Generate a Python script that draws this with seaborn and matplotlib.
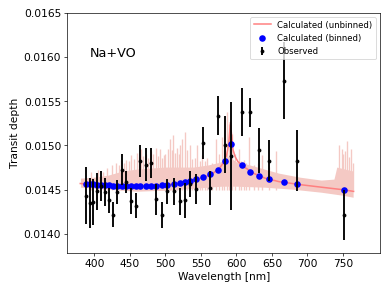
"""
Transmission spectrum: calculated Na+VO model vs observed transit depths.
"""

import matplotlib
matplotlib.use("Agg")
import matplotlib.pyplot as plt
import seaborn as sns

# observed bins (wavelength in nm, transit depth and 1-sigma error)
obs_wl = [388.3, 393.0, 398.6, 403.8, 409.4, 415.1, 420.7, 426.3, 432.4, 438.3,
          444.7, 451.3, 458.1, 464.7, 472.1, 479.5, 486.9, 494.7, 502.7, 511.6,
          519.8, 526.8, 533.9, 543.3, 552.7, 563.0, 573.3, 584.2, 592.6, 607.1,
          619.4, 632.1, 645.7, 666.3, 685.2, 751.4]
obs_depth = [0.014432, 0.014349, 0.014364, 0.014481, 0.014545, 0.014474, 0.014378,
             0.014216, 0.014477, 0.014727, 0.014588, 0.014372, 0.014318, 0.014822,
             0.014784, 0.014807, 0.014394, 0.014216, 0.014481, 0.014481, 0.014367,
             0.014378, 0.014565, 0.014506, 0.015026, 0.014523, 0.015338, 0.015011,
             0.014881, 0.015378, 0.015375, 0.014947, 0.014830, 0.015733, 0.014830,
             0.014216]
obs_err = [0.000325, 0.000283, 0.000261, 0.000208, 0.000170, 0.000156, 0.000136,
           0.000140, 0.000136, 0.000176, 0.000129, 0.000142, 0.000142, 0.000182,
           0.000182, 0.000170, 0.000176, 0.000148, 0.000142, 0.000153, 0.000148,
           0.000193, 0.000145, 0.000170, 0.000182, 0.000193, 0.000222, 0.000324,
           0.000608, 0.000273, 0.000165, 0.000256, 0.000227, 0.000432, 0.000341,
           0.000284]

# model binned to the observed wavelengths
binned_depth = [0.014568, 0.014565, 0.014561, 0.014558, 0.014555, 0.014551, 0.014548,
                0.014545, 0.014543, 0.014541, 0.014540, 0.014539, 0.014539, 0.014540,
                0.014541, 0.014543, 0.014545, 0.014550, 0.014557, 0.014564, 0.014574,
                0.014584, 0.014597, 0.014619, 0.014640, 0.014674, 0.014727, 0.014830,
                0.015020, 0.014776, 0.014701, 0.014656, 0.014622, 0.014583, 0.014560,
                0.014500]

# smoothed unbinned model
model_wl = [380, 400, 420, 450, 480, 500, 520, 540, 555, 565, 575, 582, 586, 589,
            591.5, 593, 595, 598, 602, 610, 625, 640, 660, 690, 720, 750, 765]
model_depth = [0.014570, 0.014559, 0.014548, 0.014539, 0.014542, 0.014553, 0.014574,
               0.014614, 0.014642, 0.014676, 0.014733, 0.014807, 0.014886, 0.015011,
               0.015261, 0.015125, 0.014955, 0.014875, 0.014818, 0.014761, 0.014682,
               0.014631, 0.014591, 0.014557, 0.014528, 0.014500, 0.014481]

# high resolution spectrum: continuum band edges
band_top_wl = [381, 400, 420, 440, 460, 480, 500, 520, 540, 560, 575, 585, 590, 595,
               600, 620, 640, 660, 690, 720, 738, 742, 765]
band_top = [0.014625, 0.014636, 0.014659, 0.014705, 0.014727, 0.014739, 0.014750,
            0.014750, 0.014750, 0.014773, 0.014800, 0.014830, 0.014880, 0.014840,
            0.014810, 0.014773, 0.014727, 0.014682, 0.014636, 0.014603, 0.014614,
            0.014750, 0.014705]
band_low_wl = [381, 420, 460, 500, 540, 580, 600, 640, 680, 720, 750, 765]
band_low = [0.014523, 0.014500, 0.014477, 0.014489, 0.014511, 0.014534, 0.014534,
            0.014523, 0.014500, 0.014466, 0.014432, 0.014409]

# high resolution spectrum: line peaks above the band
spike_wl = [395, 405, 412, 418, 425, 430, 434, 438, 442, 445, 449, 452, 456, 460,
            463, 466, 469, 472, 476, 480, 483, 486, 489, 492, 495, 498, 500, 503,
            507, 509, 511, 514, 516, 519, 521, 523, 527, 530, 534, 537, 541, 544,
            548, 551, 555, 558, 565, 571, 575, 579, 582, 586, 590, 593, 598, 603,
            606, 610, 613, 617, 625, 630, 636, 646, 655, 744, 748, 750, 753, 755.6,
            758, 761, 764]
spike_top = [0.014705, 0.014727, 0.014705, 0.014750, 0.014784, 0.014807, 0.014780,
             0.014841, 0.014800, 0.014841, 0.014820, 0.014898, 0.014850, 0.014920,
             0.014870, 0.014955, 0.014880, 0.014909, 0.014860, 0.014932, 0.014900,
             0.014977, 0.014880, 0.014955, 0.014860, 0.014898, 0.014900, 0.014955,
             0.015068, 0.014950, 0.015114, 0.014920, 0.014977, 0.014900, 0.015000,
             0.015068, 0.015148, 0.014950, 0.015011, 0.014850, 0.014864, 0.015011,
             0.014820, 0.014898, 0.014820, 0.014864, 0.014800, 0.015068, 0.014900,
             0.015091, 0.014950, 0.015375, 0.015239, 0.015125, 0.014900, 0.014955,
             0.014820, 0.014841, 0.014800, 0.015091, 0.014780, 0.014800, 0.014898,
             0.014760, 0.014932, 0.015011, 0.014955, 0.014900, 0.014932, 0.015049,
             0.014870, 0.014955, 0.014800]

PINK = "#f4c9c4"


def plot_spectrum():
    fig, ax = plt.subplots(figsize=(6.4, 4.81), dpi=61)
    fig.subplots_adjust(left=0.172, right=0.974, top=0.955, bottom=0.138)

    ax.fill(band_top_wl + band_low_wl[::-1], band_top + band_low[::-1],
            color=PINK, lw=0, zorder=1)
    ax.vlines(spike_wl, 0.01450, spike_top, color=PINK, lw=1.6, zorder=1)
    sns.lineplot(x=model_wl, y=model_depth, color="#ff8080", lw=1.8,
                 label="Calculated (unbinned)", ax=ax, zorder=2)
    sns.scatterplot(x=obs_wl, y=binned_depth, color="blue", s=60, linewidth=0,
                    label="Calculated (binned)", ax=ax, zorder=3)
    ax.errorbar(obs_wl, obs_depth, yerr=obs_err, fmt="o", color="k",
                markersize=3.5, elinewidth=2.2, label="Observed", zorder=4)

    ax.text(0.071, 0.832, "Na+VO", transform=ax.transAxes, fontsize=15,
            va="center", ha="left")

    ax.set_xlim(361.5, 802.5)
    ax.set_ylim(0.01379, 0.0165)
    ax.set_xticks([400, 450, 500, 550, 600, 650, 700, 750])
    ax.set_yticks([0.0140, 0.0145, 0.0150, 0.0155, 0.0160, 0.0165])
    ax.yaxis.set_major_formatter(matplotlib.ticker.FormatStrFormatter("%.4f"))
    ax.tick_params(labelsize=12.5)
    ax.set_xlabel("Wavelength [nm]", fontsize=12.5)
    ax.set_ylabel("Transit depth", fontsize=12.5)

    handles, labels = ax.get_legend_handles_labels()
    ax.legend(handles, labels, loc="upper right", fontsize=10)

    fig.savefig("out.png", dpi=61)


if __name__ == "__main__":
    plot_spectrum()
